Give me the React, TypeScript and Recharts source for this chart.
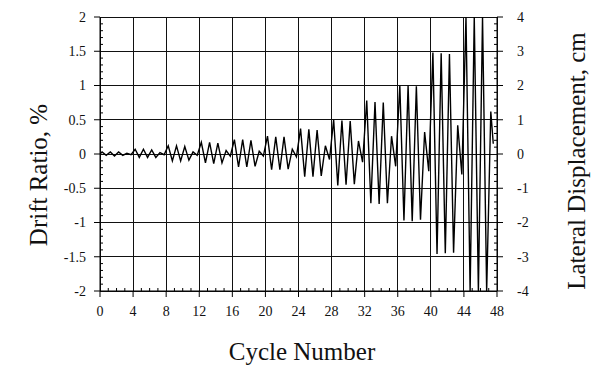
import { LineChart, Line, XAxis, YAxis, CartesianGrid } from 'recharts'

// drift ratio (%) at the positive and negative peak of every cycle
// each block of 4 cycles: 3 cycles at the target drift + 1 small cycle
const peaks = [
  0.03, 0.03, 0.03, 0.01,
  0.07, 0.07, 0.06, 0.02,
  0.12, 0.12, 0.11, 0.03,
  0.17, 0.17, 0.16, 0.05,
  0.21, 0.21, 0.2, 0.04,
  0.26, 0.25, 0.25, 0.07,
  0.37, 0.36, 0.35, 0.12,
  0.5, 0.49, 0.48, 0.19,
  0.78, 0.76, 0.75, 0.26,
  1.0, 1.0, 0.99, 0.32,
  1.48, 1.47, 1.46, 0.42,
  2.0, 2.0, 2.0, 0.62,
]
const troughs = [
  -0.02, -0.03, -0.02, -0.01,
  -0.05, -0.05, -0.05, -0.01,
  -0.1, -0.1, -0.09, -0.02,
  -0.13, -0.14, -0.13, -0.03,
  -0.19, -0.19, -0.18, -0.03,
  -0.23, -0.23, -0.22, -0.04,
  -0.33, -0.33, -0.32, -0.08,
  -0.46, -0.45, -0.44, -0.12,
  -0.72, -0.73, -0.72, -0.18,
  -0.97, -0.98, -0.96, -0.25,
  -1.46, -1.45, -1.44, -0.3,
  -2.0, -2.0, -2.0,
]
const lastPoint = { x: 47.55, y: 0.15 }

const xTicks = [0, 4, 8, 12, 16, 20, 24, 28, 32, 36, 40, 44, 48]
const driftTicks = [-2, -1.5, -1, -0.5, 0, 0.5, 1, 1.5, 2]
const dispTicks = [-4, -3, -2, -1, 0, 1, 2, 3, 4]

const minor = (from: number, to: number, step: number, skip: number[]) => {
  const out: number[] = []
  for (let v = from; v <= to + 1e-9; v += step) {
    const r = Math.round(v * 100) / 100
    if (!skip.some(s => Math.abs(s - r) < 1e-6)) out.push(r)
  }
  return out
}
const xMinor = minor(0, 48, 1, xTicks)
const driftMinor = minor(-2, 2, 0.1, driftTicks)
const dispMinor = minor(-4, 4, 0.2, dispTicks)

const points: { x: number; y: number }[] = [{ x: 0, y: 0 }]
peaks.forEach((p, i) => {
  points.push({ x: i + 0.25, y: p })
  if (troughs[i] !== undefined) points.push({ x: i + 0.75, y: troughs[i] })
})
points.push(lastPoint)

const serif = '"Liberation Serif", "Times New Roman", serif'
const titleStyle = { fontSize: 25, fill: '#111', fontFamily: serif }
const noLabel = () => <g />

function makeTick(anchor: 'middle' | 'end' | 'start', dy: string) {
  return (p: any) => (
    <text x={p.x} y={p.y} dy={dy} textAnchor={anchor} fill="#111"
      style={{ fontFamily: serif, fontSize: 14 }}>{p.payload.value}</text>
  )
}

export default function App() {
  return (
    <div style={{ position: 'absolute', left: 0, top: 0, width: 592, height: 368, background: '#fff', fontFamily: serif }}>
      <LineChart width={592} height={368} data={points} margin={{ top: 17, right: 0, bottom: 0, left: 0 }}>
        <CartesianGrid xAxisId="x" yAxisId="drift" stroke="#111" strokeWidth={1} shapeRendering="crispEdges" />
        <XAxis xAxisId="x" dataKey="x" type="number" domain={[0, 48]} ticks={xTicks} interval={0}
          allowDataOverflow height={77} tickSize={6} tickMargin={8} tick={makeTick('middle', '0.75em')} stroke="#000"
          label={{ content: () => <text x={302} y={360} textAnchor="middle" style={titleStyle}>Cycle Number</text> }} />
        <XAxis xAxisId="xm" dataKey="x" type="number" domain={[0, 48]} ticks={xMinor} interval={0}
          allowDataOverflow mirror height={10} tick={noLabel} tickSize={3} axisLine={false} stroke="#000" />
        <YAxis yAxisId="drift" type="number" domain={[-2, 2]} ticks={driftTicks} interval={0}
          allowDataOverflow width={100} tickSize={6} tickMargin={8} tick={makeTick('end', '0.35em')} stroke="#000"
          label={{ content: () => <text x={38} y={175} textAnchor="middle" dominantBaseline="central" transform="rotate(-90 38 175)" style={titleStyle}>Drift Ratio, %</text> }} />
        <YAxis yAxisId="dm" type="number" domain={[-2, 2]} ticks={driftMinor} interval={0}
          allowDataOverflow mirror width={10} tick={noLabel} tickSize={3} axisLine={false} stroke="#000" />
        <YAxis yAxisId="disp" orientation="right" type="number" domain={[-4, 4]} ticks={dispTicks} interval={0}
          allowDataOverflow width={95} tickSize={6} tickMargin={14} tick={makeTick('start', '0.35em')} stroke="#000"
          label={{ content: () => <text x={576} y={161} textAnchor="middle" dominantBaseline="central" transform="rotate(-90 576 161)" style={titleStyle}>Lateral Displacement, cm</text> }} />
        <YAxis yAxisId="dispm" orientation="right" type="number" domain={[-4, 4]} ticks={dispMinor} interval={0}
          allowDataOverflow mirror width={10} tick={noLabel} tickSize={3} axisLine={false} stroke="#000" />
        <Line xAxisId="x" yAxisId="drift" type="linear" dataKey="y" stroke="#000" strokeWidth={1.4}
          dot={false} activeDot={false} isAnimationActive={false} />
      </LineChart>
    </div>
  )
}
